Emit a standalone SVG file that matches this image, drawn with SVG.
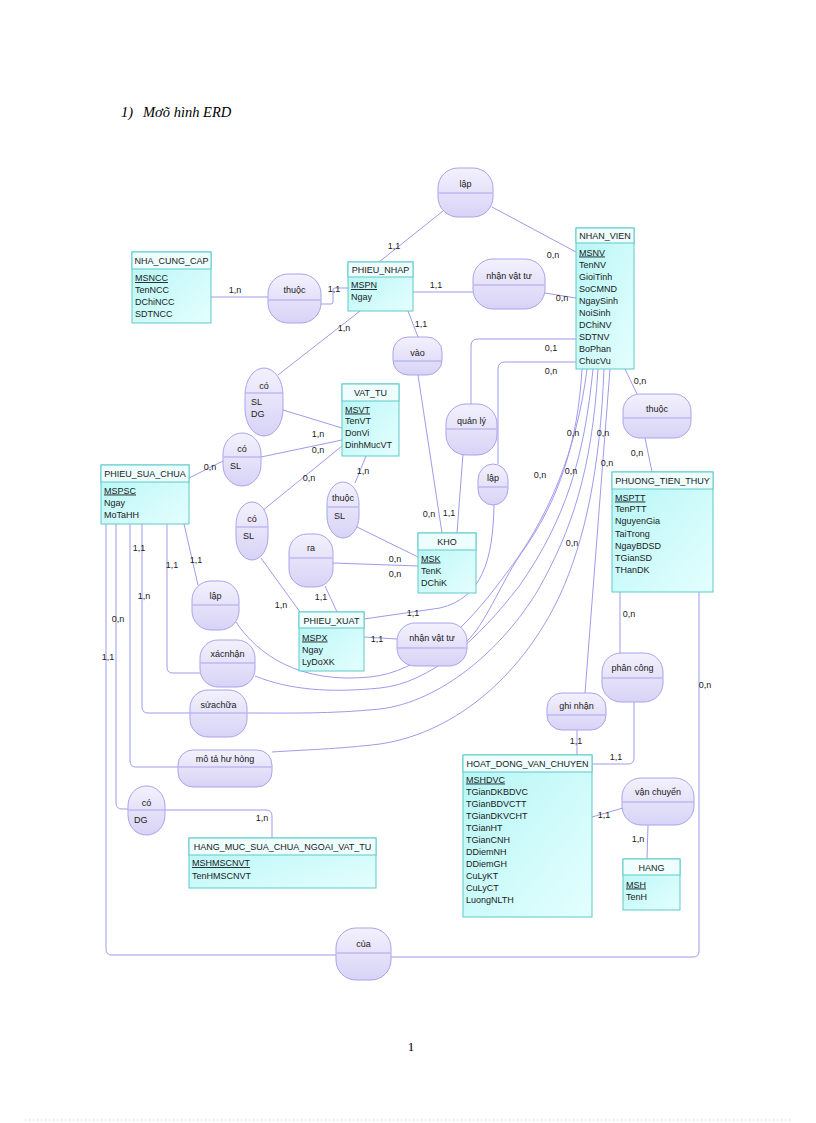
<svg xmlns="http://www.w3.org/2000/svg" width="816" height="1123" viewBox="0 0 816 1123">
<defs>
<linearGradient id="entG" x1="0" y1="0" x2="1" y2="1">
<stop offset="0" stop-color="#b6f6f6"/>
<stop offset="1" stop-color="#e4fefe"/>
</linearGradient>
<linearGradient id="relG" x1="0" y1="0" x2="0" y2="1">
<stop offset="0" stop-color="#f3f1fd"/>
<stop offset="1" stop-color="#d8d3f6"/>
</linearGradient>
<style>
.eb{fill:url(#entG);stroke:#5ec9c9;stroke-width:1}
.eh{fill:#eefefe;stroke:#5ec9c9;stroke-width:1}
.rel{fill:url(#relG);stroke:#a9a3ec;stroke-width:1}
.dv{stroke:#a9a3ec;stroke-width:1}
.t{font-family:"Liberation Sans",Arial,sans-serif;font-size:9px;fill:#1a1a1a}
.c{text-anchor:middle}
.u{text-decoration:underline}
#connectors path,#connectors line{fill:none;stroke:#9f9aec;stroke-width:1}
.lb{font-family:"Liberation Sans",Arial,sans-serif;font-size:9px;fill:#1a1a1a;text-anchor:middle}
</style>
</defs>
<rect x="0" y="0" width="816" height="1123" fill="#ffffff"/>
<text x="121" y="117" font-family="Liberation Serif, serif" font-style="italic" font-size="14.5">1)</text>
<text x="143" y="117" font-family="Liberation Serif, serif" font-style="italic" font-size="14.5">Mơõ hình ERD</text>
<text x="411" y="1051" font-family="Liberation Serif, serif" font-size="13" text-anchor="middle">1</text>
<line x1="25" y1="1120" x2="790" y2="1120" stroke="#c8c8c8" stroke-width="1" stroke-dasharray="1,3"/>

<g id="connectors">
<path d="M211,297 H268"/>
<path d="M321,304 H331 Q333,304 333,302 V290 Q333,288 335,288 H348"/>
<path d="M443,211 L379,262"/>
<path d="M492,207 L576,252"/>
<path d="M413,292 H473"/>
<path d="M545,293 L576,298"/>
<path d="M408,311 L418,337"/>
<path d="M418,375 L442,533"/>
<path d="M360,311 L278,375"/>
<path d="M283,410 L342,428"/>
<path d="M261,457 L342,440"/>
<path d="M223,461 L189,478"/>
<path d="M262,511 L342,446"/>
<path d="M261,558 L300,612"/>
<path d="M366,456 L355,483"/>
<path d="M357,527 L418,557"/>
<path d="M333,563 L418,566"/>
<path d="M325,586 L337,612"/>
<path d="M463,454 L457,533"/>
<path d="M576,339 H478 Q471,339 471,346 V404"/>
<path d="M576,362 H505 Q498,362 498,369 V464"/>
<path d="M494,505 C493,560 482,598 440,608 L364,619"/>
<path d="M364,637 L397,639"/>
<path d="M625,369 L637,394"/>
<path d="M645,438 L652,472"/>
<path d="M620,592 V653"/>
<path d="M634,702 V758 Q634,764 628,764 H592"/>
<path d="M577,730 V755"/>
<path d="M610,369 L585,693"/>
<path d="M592,817 L623,808"/>
<path d="M648,825 L647,859"/>
<path d="M699,592 V951 Q699,957 693,957 H391"/>
<path d="M106,524 V949 Q106,955 112,955 H336"/>
<path d="M116,524 V803 Q116,809 122,809 H128"/>
<path d="M165,810 H266 Q272,810 272,816 V838"/>
<path d="M130,524 V761 Q130,767 136,767 H178"/>
<path d="M142,524 V707 Q142,713 148,713 H190"/>
<path d="M167,524 V667 Q167,673 173,673 H200"/>
<path d="M184,524 L198,585"/>
<path d="M582,369 C578,440 560,500 520,555 C500,585 485,625 466,642"/>
<path d="M587,369 C577,450 548,520 505,575 C465,630 420,672 370,677 C300,684 258,655 236,622"/>
<path d="M593,369 C584,460 565,520 520,585 C478,640 430,683 380,688 C330,693 290,690 255,676"/>
<path d="M598,369 C592,470 572,530 538,590 C502,650 440,702 380,709 C330,714 290,713 247,713"/>
<path d="M604,369 C600,470 585,540 560,595 C525,670 460,732 380,744 C340,749 300,750 272,752"/>
</g>

<g id="labels">
<text class="lb" x="235" y="293">1,n</text>
<text class="lb" x="334" y="292">1,1</text>
<text class="lb" x="394" y="249">1,1</text>
<text class="lb" x="553" y="258">0,n</text>
<text class="lb" x="436" y="288">1,1</text>
<text class="lb" x="562" y="301">0,n</text>
<text class="lb" x="421" y="327">1,1</text>
<text class="lb" x="344" y="331">1,n</text>
<text class="lb" x="318" y="437">1,n</text>
<text class="lb" x="318" y="453">0,n</text>
<text class="lb" x="210" y="470">0,n</text>
<text class="lb" x="309" y="481">0,n</text>
<text class="lb" x="281" y="608">1,n</text>
<text class="lb" x="363" y="474">1,n</text>
<text class="lb" x="395" y="562">0,n</text>
<text class="lb" x="395" y="577">0,n</text>
<text class="lb" x="321" y="600">1,1</text>
<text class="lb" x="429" y="517">0,n</text>
<text class="lb" x="449" y="516">1,1</text>
<text class="lb" x="551" y="351">0,1</text>
<text class="lb" x="551" y="374">0,n</text>
<text class="lb" x="413" y="616">1,1</text>
<text class="lb" x="377" y="642">1,1</text>
<text class="lb" x="640" y="384">0,n</text>
<text class="lb" x="637" y="456">0,n</text>
<text class="lb" x="629" y="617">0,n</text>
<text class="lb" x="616" y="760">1,1</text>
<text class="lb" x="576" y="744">1,1</text>
<text class="lb" x="604" y="818">1,1</text>
<text class="lb" x="638" y="842">1,n</text>
<text class="lb" x="705" y="688">0,n</text>
<text class="lb" x="108" y="660">1,1</text>
<text class="lb" x="118" y="622">0,n</text>
<text class="lb" x="262" y="821">1,n</text>
<text class="lb" x="144" y="599">1,n</text>
<text class="lb" x="139" y="551">1,1</text>
<text class="lb" x="172" y="568">1,1</text>
<text class="lb" x="196" y="563">1,1</text>
<text class="lb" x="573" y="436">0,n</text>
<text class="lb" x="603" y="436">0,n</text>
<text class="lb" x="540" y="478">0,n</text>
<text class="lb" x="571" y="474">0,n</text>
<text class="lb" x="607" y="466">0,n</text>
<text class="lb" x="572" y="546">0,n</text>
</g>

<g id="NHA_CUNG_CAP">
<rect class="eb" x="132" y="252" width="79" height="71"/>
<rect class="eh" x="132" y="252" width="79" height="17"/>
<text class="t c" x="171.5" y="264">NHA_CUNG_CAP</text>
<text class="t u" x="135" y="281">MSNCC</text>
<text class="t" x="135" y="293">TenNCC</text>
<text class="t" x="135" y="305">DChiNCC</text>
<text class="t" x="135" y="317">SDTNCC</text>
</g>
<g id="PHIEU_NHAP">
<rect class="eb" x="348" y="262" width="65" height="49"/>
<rect class="eh" x="348" y="262" width="65" height="15"/>
<text class="t c" x="380.5" y="273">PHIEU_NHAP</text>
<text class="t u" x="351" y="288">MSPN</text>
<text class="t" x="351" y="300">Ngay</text>
</g>
<g id="NHAN_VIEN">
<rect class="eb" x="576" y="228" width="58" height="141"/>
<rect class="eh" x="576" y="228" width="58" height="15"/>
<text class="t c" x="605" y="239">NHAN_VIEN</text>
<text class="t u" x="579" y="255.5">MSNV</text>
<text class="t" x="579" y="267.5">TenNV</text>
<text class="t" x="579" y="279.5">GioiTinh</text>
<text class="t" x="579" y="291.5">SoCMND</text>
<text class="t" x="579" y="303.5">NgaySinh</text>
<text class="t" x="579" y="315.5">NoiSinh</text>
<text class="t" x="579" y="327.5">DChiNV</text>
<text class="t" x="579" y="339.5">SDTNV</text>
<text class="t" x="579" y="351.5">BoPhan</text>
<text class="t" x="579" y="363.5">ChucVu</text>
</g>
<g id="VAT_TU">
<rect class="eb" x="342" y="384" width="57" height="72"/>
<rect class="eh" x="342" y="384" width="57" height="17"/>
<text class="t c" x="370.5" y="396">VAT_TU</text>
<text class="t u" x="345" y="412.5">MSVT</text>
<text class="t" x="345" y="424">TenVT</text>
<text class="t" x="345" y="436">DonVi</text>
<text class="t" x="345" y="448">DinhMucVT</text>
</g>
<g id="PHIEU_SUA_CHUA">
<rect class="eb" x="101" y="465" width="88" height="59"/>
<rect class="eh" x="101" y="465" width="88" height="17"/>
<text class="t c" x="145" y="477">PHIEU_SUA_CHUA</text>
<text class="t u" x="104" y="493.5">MSPSC</text>
<text class="t" x="104" y="505.5">Ngay</text>
<text class="t" x="104" y="517.5">MoTaHH</text>
</g>
<g id="KHO">
<rect class="eb" x="418" y="533" width="58" height="60"/>
<rect class="eh" x="418" y="533" width="58" height="17"/>
<text class="t c" x="447" y="545">KHO</text>
<text class="t u" x="421" y="561.5">MSK</text>
<text class="t" x="421" y="573.5">TenK</text>
<text class="t" x="421" y="585.5">DChiK</text>
</g>
<g id="PHIEU_XUAT">
<rect class="eb" x="299" y="612" width="65" height="59"/>
<rect class="eh" x="299" y="612" width="65" height="16"/>
<text class="t c" x="331.5" y="623.5">PHIEU_XUAT</text>
<text class="t u" x="302" y="640.5">MSPX</text>
<text class="t" x="302" y="652.5">Ngay</text>
<text class="t" x="302" y="664.5">LyDoXK</text>
</g>
<g id="PHUONG_TIEN_THUY">
<rect class="eb" x="612" y="472" width="101" height="120"/>
<rect class="eh" x="612" y="472" width="101" height="17"/>
<text class="t c" x="662.5" y="484">PHUONG_TIEN_THUY</text>
<text class="t u" x="615" y="500.5">MSPTT</text>
<text class="t" x="615" y="512">TenPTT</text>
<text class="t" x="615" y="524">NguyenGia</text>
<text class="t" x="615" y="536.5">TaiTrong</text>
<text class="t" x="615" y="548.5">NgayBDSD</text>
<text class="t" x="615" y="560.5">TGianSD</text>
<text class="t" x="615" y="572.5">THanDK</text>
</g>
<g id="HOAT_DONG_VAN_CHUYEN">
<rect class="eb" x="463" y="755" width="129" height="162"/>
<rect class="eh" x="463" y="755" width="129" height="17"/>
<text class="t c" x="527.5" y="767">HOAT_DONG_VAN_CHUYEN</text>
<text class="t u" x="466" y="782.5">MSHDVC</text>
<text class="t" x="466" y="794.5">TGianDKBDVC</text>
<text class="t" x="466" y="806.5">TGianBDVCTT</text>
<text class="t" x="466" y="818.5">TGianDKVCHT</text>
<text class="t" x="466" y="830.5">TGianHT</text>
<text class="t" x="466" y="842.5">TGianCNH</text>
<text class="t" x="466" y="854.5">DDiemNH</text>
<text class="t" x="466" y="866.5">DDiemGH</text>
<text class="t" x="466" y="878.5">CuLyKT</text>
<text class="t" x="466" y="890.5">CuLyCT</text>
<text class="t" x="466" y="902.5">LuongNLTH</text>
</g>
<g id="HANG">
<rect class="eb" x="623" y="859" width="57" height="51"/>
<rect class="eh" x="623" y="859" width="57" height="16"/>
<text class="t c" x="651.5" y="871">HANG</text>
<text class="t u" x="626" y="887.5">MSH</text>
<text class="t" x="626" y="899.5">TenH</text>
</g>
<g id="HANG_MUC_SUA_CHUA_NGOAI_VAT_TU">
<rect class="eb" x="189" y="838" width="187" height="50"/>
<rect class="eh" x="189" y="838" width="187" height="17"/>
<text class="t c" x="282.5" y="850">HANG_MUC_SUA_CHUA_NGOAI_VAT_TU</text>
<text class="t u" x="192" y="866">MSHMSCNVT</text>
<text class="t" x="192" y="878.5">TenHMSCNVT</text>
</g>

<g id="rel_lap_pn">
<rect class="rel" x="438" y="168" width="55" height="49" rx="20" ry="20"/>
<line class="dv" x1="438.5" y1="193" x2="492.5" y2="193"/>
<text class="t c" x="465.5" y="186.5">lập</text>
</g>
<g id="rel_thuoc_ncc">
<rect class="rel" x="268" y="274" width="53" height="49" rx="20" ry="20"/>
<line class="dv" x1="268.5" y1="300" x2="320.5" y2="300"/>
<text class="t c" x="294.5" y="293">thuộc</text>
</g>
<g id="rel_nhanvattu_pn">
<rect class="rel" x="473" y="259" width="72" height="50" rx="20" ry="20"/>
<line class="dv" x1="473.5" y1="285" x2="544.5" y2="285"/>
<text class="t c" x="509" y="279">nhận vật tư</text>
</g>
<g id="rel_vao">
<rect class="rel" x="393" y="337" width="49" height="38" rx="15" ry="15"/>
<line class="dv" x1="393.5" y1="361" x2="441.5" y2="361"/>
<text class="t c" x="417.5" y="355.5">vào</text>
</g>
<g id="rel_co_pn">
<rect class="rel" x="245" y="368" width="38" height="68" rx="19" ry="27"/>
<line class="dv" x1="245.5" y1="393" x2="282.5" y2="393"/>
<text class="t c" x="264" y="388.5">có</text>
<text class="t" x="251" y="404.5">SL</text>
<text class="t" x="251" y="416.5">DG</text>
</g>
<g id="rel_co_psc">
<rect class="rel" x="223" y="433" width="38" height="53" rx="19" ry="21"/>
<line class="dv" x1="223.5" y1="457" x2="260.5" y2="457"/>
<text class="t c" x="242" y="451.5">có</text>
<text class="t" x="230" y="468.5">SL</text>
</g>
<g id="rel_co_px">
<rect class="rel" x="236" y="502" width="32" height="58" rx="16" ry="23"/>
<line class="dv" x1="236.5" y1="527" x2="267.5" y2="527"/>
<text class="t c" x="252" y="522">có</text>
<text class="t" x="243" y="538.5">SL</text>
</g>
<g id="rel_thuoc_kho">
<rect class="rel" x="327" y="482" width="32" height="56" rx="16" ry="22"/>
<line class="dv" x1="327.5" y1="507" x2="358.5" y2="507"/>
<text class="t c" x="343" y="500.5">thuộc</text>
<text class="t" x="334" y="518.5">SL</text>
</g>
<g id="rel_quanly">
<rect class="rel" x="446" y="404" width="51" height="51" rx="20" ry="20"/>
<line class="dv" x1="446.5" y1="429" x2="496.5" y2="429"/>
<text class="t c" x="471.5" y="424">quản lý</text>
</g>
<g id="rel_lap_px">
<rect class="rel" x="478" y="464" width="30" height="41" rx="15" ry="16"/>
<line class="dv" x1="478.5" y1="487" x2="507.5" y2="487"/>
<text class="t c" x="493" y="481">lập</text>
</g>
<g id="rel_ra">
<rect class="rel" x="289" y="534" width="44" height="53" rx="18" ry="18"/>
<line class="dv" x1="289.5" y1="558" x2="332.5" y2="558"/>
<text class="t c" x="311" y="551">ra</text>
</g>
<g id="rel_lap_psc">
<rect class="rel" x="192" y="581" width="47" height="49" rx="19" ry="19"/>
<line class="dv" x1="192.5" y1="605" x2="238.5" y2="605"/>
<text class="t c" x="215.5" y="599">lập</text>
</g>
<g id="rel_nhanvattu_px">
<rect class="rel" x="397" y="623" width="70" height="43" rx="18" ry="18"/>
<line class="dv" x1="397.5" y1="648" x2="466.5" y2="648"/>
<text class="t c" x="432" y="640.5">nhận vật tư</text>
</g>
<g id="rel_xacnhan">
<rect class="rel" x="200" y="640" width="55" height="47" rx="18" ry="18"/>
<line class="dv" x1="200.5" y1="663" x2="254.5" y2="663"/>
<text class="t c" x="227.5" y="657">xácnhận</text>
</g>
<g id="rel_suachua">
<rect class="rel" x="190" y="690" width="57" height="47" rx="18" ry="18"/>
<line class="dv" x1="190.5" y1="713" x2="246.5" y2="713"/>
<text class="t c" x="218.5" y="708">sửachữa</text>
</g>
<g id="rel_motahuhong">
<rect class="rel" x="178" y="750" width="94" height="37" rx="15" ry="15"/>
<line class="dv" x1="178.5" y1="767" x2="271.5" y2="767"/>
<text class="t c" x="225" y="762">mô tả hư hỏng</text>
</g>
<g id="rel_thuoc_ptt">
<rect class="rel" x="623" y="394" width="68" height="44" rx="17" ry="17"/>
<line class="dv" x1="623.5" y1="418" x2="690.5" y2="418"/>
<text class="t c" x="657" y="412">thuộc</text>
</g>
<g id="rel_phancong">
<rect class="rel" x="602" y="653" width="61" height="49" rx="19" ry="19"/>
<line class="dv" x1="602.5" y1="678" x2="662.5" y2="678"/>
<text class="t c" x="632.5" y="671">phân công</text>
</g>
<g id="rel_ghinhan">
<rect class="rel" x="547" y="693" width="59" height="37" rx="15" ry="15"/>
<line class="dv" x1="547.5" y1="715" x2="605.5" y2="715"/>
<text class="t c" x="576.5" y="709">ghi nhận</text>
</g>
<g id="rel_vanchuyen">
<rect class="rel" x="622" y="778" width="72" height="47" rx="19" ry="19"/>
<line class="dv" x1="622.5" y1="802" x2="693.5" y2="802"/>
<text class="t c" x="658" y="795">vận chuyển</text>
</g>
<g id="rel_co_hm">
<rect class="rel" x="128" y="786" width="37" height="49" rx="18" ry="20"/>
<line class="dv" x1="128.5" y1="810" x2="164.5" y2="810"/>
<text class="t c" x="146.5" y="805.5">có</text>
<text class="t" x="134" y="822.5">DG</text>
</g>
<g id="rel_cua">
<rect class="rel" x="336" y="928" width="55" height="52" rx="20" ry="20"/>
<line class="dv" x1="336.5" y1="953" x2="390.5" y2="953"/>
<text class="t c" x="363.5" y="946.5">của</text>
</g>
</svg>
